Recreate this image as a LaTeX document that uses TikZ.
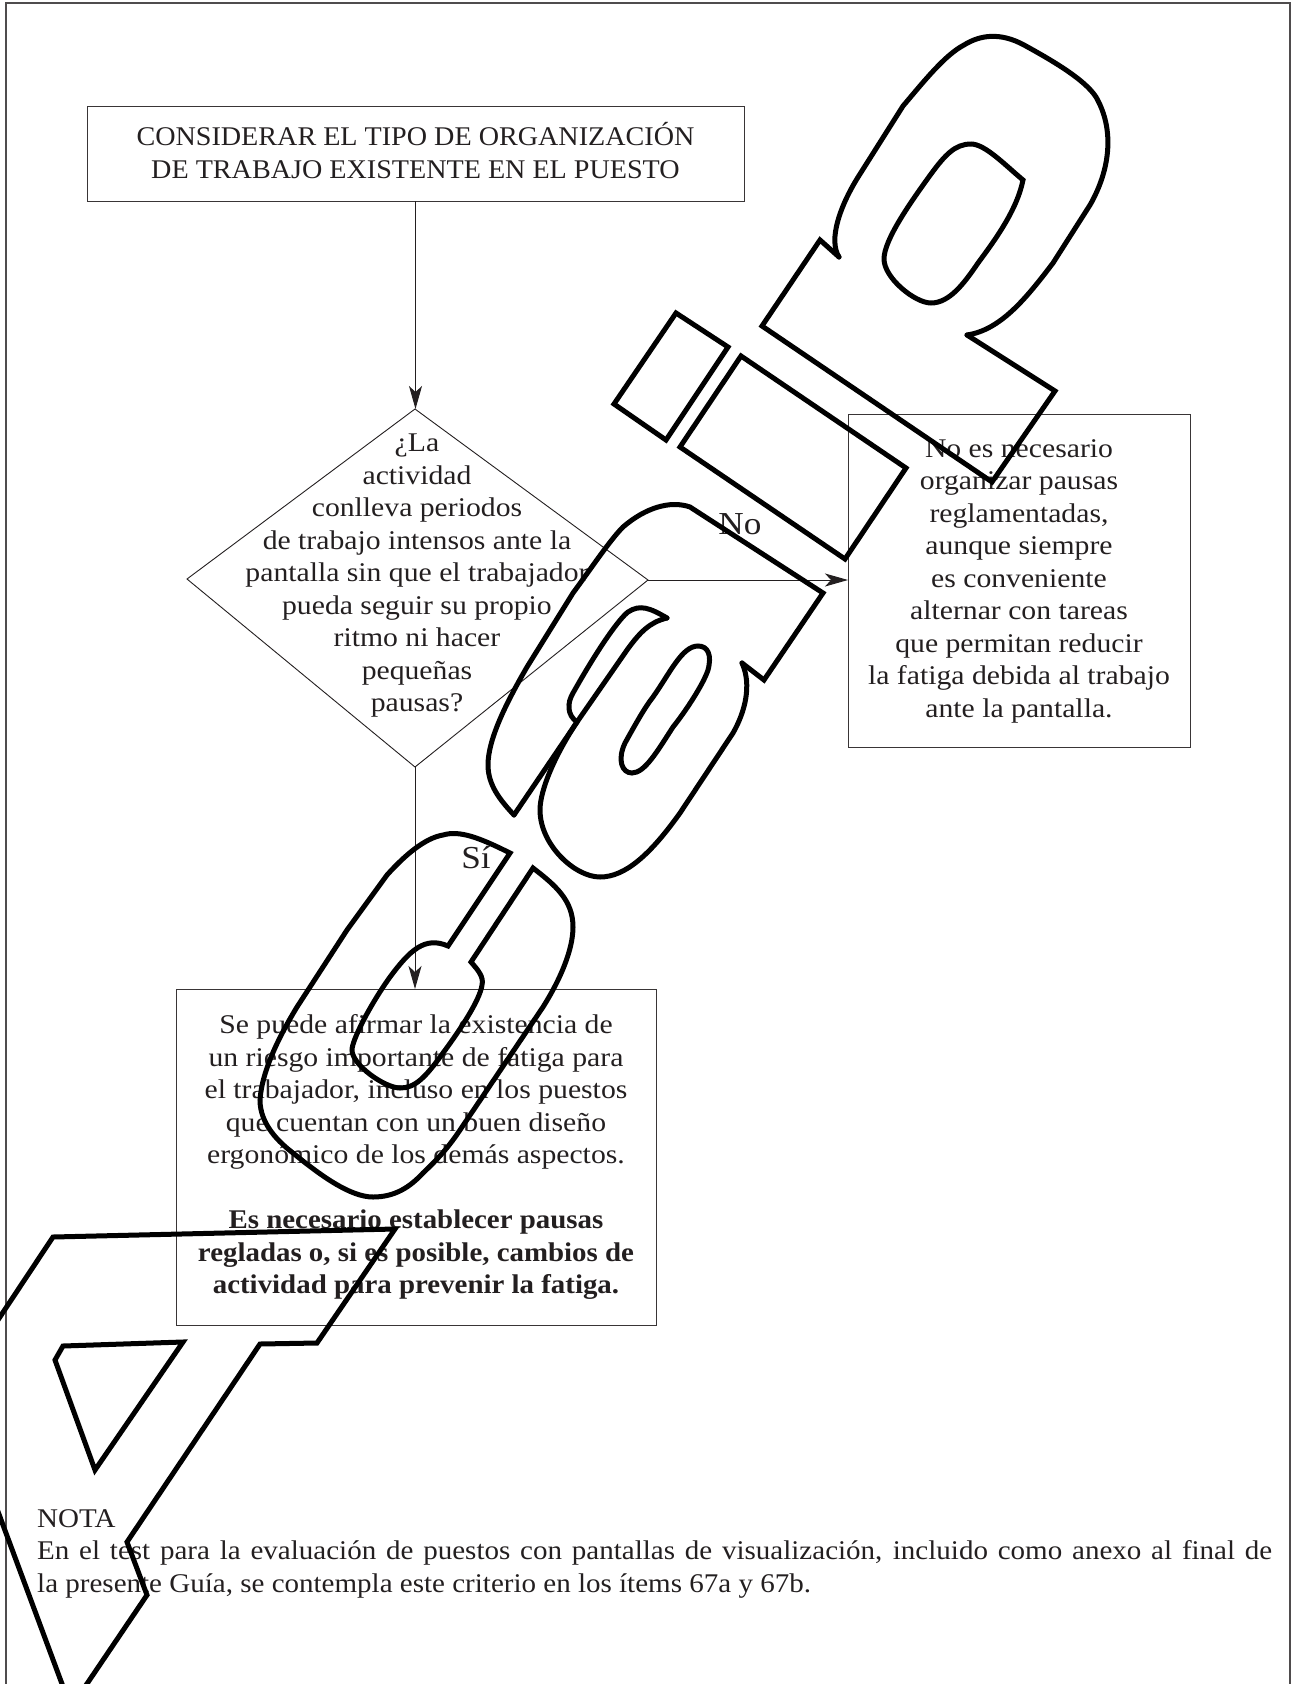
\documentclass[tikz,border=0pt]{standalone}
\usepackage{fontspec}
\setmainfont[FakeStretch=1.10,BoldFeatures={FakeStretch=1.07}]{Liberation Serif}
\newfontfamily\capsfont[FakeStretch=1.042]{Liberation Serif}
\newfontfamily\notefont[FakeStretch=1.075]{Liberation Serif}
\usepackage{xcolor}
\usetikzlibrary{arrows.meta,positioning}
\definecolor{inkgray}{HTML}{231F20}
\newcommand{\lowstrut}[1]{\rule[-#1]{0pt}{#1}}
\tikzset{
  txt/.style={align=center, inner sep=0pt, text=inkgray,
              font=\fontsize{27}{32.5}\selectfont},
  lab/.style={txt, font=\fontsize{32}{36}\selectfont},
  seg/.style={txt, draw=inkgray!90, line width=1pt, rectangle, outer sep=0pt},
  decision/.style={draw=inkgray, line width=0.9pt},
  frameline/.style={draw=inkgray!80, line width=1.6pt},
  flow/.style={draw=inkgray, line width=1pt,
              -{Stealth[length=23pt,width=13pt,inset=6pt]}},
  stamp/.style={draw=black, line width=5pt, line join=miter, line cap=round},
}

\begin{document}
\begin{tikzpicture}[x=1pt,y=-1pt]
  \useasboundingbox (0,0) rectangle (1298,1684);
  \draw[frameline] (6,1684) -- (6,3) -- (1290,3) -- (1290,1684);

  \node[seg, minimum width=657pt, minimum height=95pt] (start) at (415.5,153.5)
    {\capsfont CONSIDERAR EL TIPO DE ORGANIZACIÓN\\ \capsfont DE TRABAJO EXISTENTE EN EL PUESTO\lowstrut{6pt}};
  \coordinate (q0n) at (415,409);
  \coordinate (q0e) at (648,580);
  \coordinate (q0s) at (415,767);
  \coordinate (q0w) at (187,579);
  \draw[decision] (q0n) -- (q0e) -- (q0s) -- (q0w) -- cycle;
  \node[txt] (q0) at (417,576)
    {¿La\\ actividad\\ conlleva periodos\\ de trabajo intensos ante la\\ pantalla sin que el trabajador\\
     pueda seguir su propio\\ ritmo ni hacer\\ pequeñas\\ pausas?};
  \node[seg, minimum width=342pt, minimum height=333pt] (nobox) at (1019,581)
    {No es necesario\\ organizar pausas\\ reglamentadas,\\ aunque siempre\\ es conveniente\\
     alternar con tareas\\ que permitan reducir\\ la fatiga debida al trabajo\\ ante la pantalla.};
  \node[seg, minimum width=480pt, minimum height=336pt] (sibox) at (416,1157)
    {Se puede afirmar la existencia de\\ un riesgo importante de fatiga para\\
     el trabajador, incluso en los puestos\\ que cuentan con un buen diseño\\
     ergonómico de los demás aspectos.\\[32.5pt]
     \textbf{Es necesario establecer pausas}\\ \textbf{regladas o, si es posible, cambios de}\\
     \textbf{actividad para prevenir la fatiga.}};
  \node[lab] (nolab) at (740,524) {No};
  \node[lab] (silab) at (476,858) {Sí};
  \node[txt, align=left, anchor=north west] (nota) at (37,1509)
    {\notefont NOTA\\ \notefont\makebox[1235pt][s]{En el test para la evaluación de puestos con pantallas de visualización, incluido como anexo al final de}\\
     \notefont la presente Guía, se contempla este criterio en los ítems 67a y 67b.};

  \draw[flow] (start) -- (start |- q0n);
  \draw[flow] (q0e) -- (q0e -| nobox.west);
  \draw[flow] (q0s) -- (q0s |- sibox.north);

  \begin{scope}
    \clip (0,0) rectangle (1298,1684);
    \draw[stamp] (-20,1347) -- (53,1237) -- (395,1229) -- (317,1343) -- (260,1344)
      -- (127,1542) -- (147,1595) -- (76,1700);
    \draw[stamp] (-10,1490) -- (68,1700);
    \draw[stamp] (183,1342) -- (63,1346) -- (55,1360) -- (95,1470) -- cycle;

    \draw[stamp] (510,853) .. controls (480,838) and (460,830) .. (443,835)
      .. controls (425,838) and (405,855) .. (387,875)
      -- (347,930) -- (297,1007)
      .. controls (280,1035) and (262,1070) .. (260,1100)
      .. controls (260,1125) and (280,1143) .. (293,1153)
      .. controls (320,1175) and (350,1197) .. (373,1197)
      .. controls (395,1197) and (410,1187) .. (423,1173)
      .. controls (440,1157) and (450,1145) .. (460,1130)
      -- (543,1007)
      .. controls (560,980) and (573,950) .. (573,927)
      .. controls (573,900) and (555,885) .. (533,868)
      -- (471,962)
      .. controls (478,970) and (484,977) .. (482,985)
      .. controls (480,1000) and (460,1030) .. (443,1053)
      .. controls (425,1078) and (415,1088) .. (400,1088)
      .. controls (385,1088) and (352,1065) .. (352,1050)
      .. controls (352,1040) and (370,1005) .. (390,977)
      .. controls (410,950) and (425,936) .. (448,946)
      -- cycle;

    \draw[stamp] (514,815) -- (577,722)
      -- (627,650) .. controls (640,632) and (650,622) .. (667,618);
    \draw[stamp] (667,618) .. controls (650,608) and (640,604) .. (628,612)
      .. controls (620,618) and (600,645) .. (573,693)
      .. controls (567,703) and (567,715) .. (577,722);
    \draw[stamp] (577,722) .. controls (555,755) and (540,790) .. (540,810)
      .. controls (540,845) and (575,877) .. (600,877)
      .. controls (625,877) and (650,855) .. (680,813)
      -- (733,733) .. controls (745,712) and (752,685) .. (742,663);
    \draw[stamp] (742,663) -- (764,680) -- (823,593) -- (690,507)
      .. controls (670,500) and (645,508) .. (623,527)
      .. controls (610,540) and (590,570) .. (573,593)
      -- (527,667)
      .. controls (505,705) and (488,740) .. (488,765)
      .. controls (488,785) and (500,800) .. (514,815);
    \draw[stamp] (698,646) .. controls (708,646) and (712,655) .. (708,670)
      .. controls (703,685) and (685,712) .. (673,727)
      .. controls (658,750) and (645,773) .. (632,773)
      .. controls (622,773) and (617,760) .. (625,743)
      .. controls (635,725) and (645,707) .. (653,697)
      .. controls (670,673) and (682,646) .. (698,646) -- cycle;

    \draw[stamp] (839,257) -- (820,240) -- (762,326) -- (992,482) -- (1055,391) -- (967,335);
    \draw[stamp] (967,335) .. controls (1000,330) and (1025,300) .. (1053,263)
      -- (1090,205) .. controls (1110,170) and (1115,130) .. (1096,97)
      .. controls (1085,80) and (1055,62) .. (1024,45)
      .. controls (1000,32) and (980,35) .. (964,45)
      .. controls (945,55) and (925,80) .. (903,106)
      -- (860,174) .. controls (840,205) and (828,240) .. (839,257);
    \draw[stamp] (1023,180) .. controls (1005,165) and (985,144) .. (971,144)
      .. controls (955,144) and (945,155) .. (931,174)
      .. controls (910,203) and (884,240) .. (884,259)
      .. controls (884,278) and (915,303) .. (931,303)
      .. controls (950,303) and (965,282) .. (978,263)
      .. controls (995,240) and (1017,210) .. (1023,180) -- cycle;
    \draw[stamp] (676,313) -- (728,347) -- (666,440) -- (614,404) -- cycle;
    \draw[stamp] (741,356) -- (906,468) -- (845,559) -- (680,447) -- cycle;
  \end{scope}
\end{tikzpicture}
\end{document}
